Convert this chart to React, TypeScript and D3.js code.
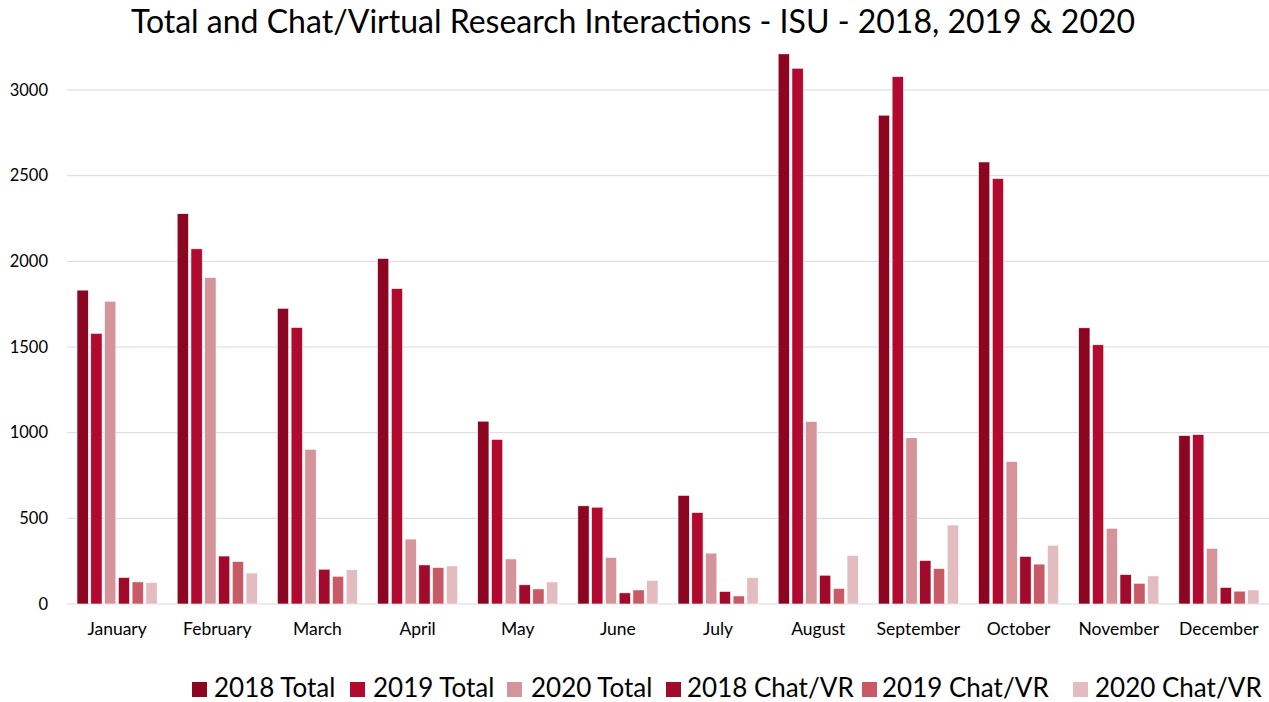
import React from 'react';
import { scaleBand, scaleLinear } from 'd3';

const months = [
  'January', 'February', 'March', 'April', 'May', 'June',
  'July', 'August', 'September', 'October', 'November', 'December',
];
const seriesNames = [
  '2018 Total', '2019 Total', '2020 Total',
  '2018 Chat/VR', '2019 Chat/VR', '2020 Chat/VR',
];
const total2018 = [1832, 2278, 1726, 2017, 1067, 573, 634, 3211, 2853, 2580, 1612, 983];
const total2019 = [1580, 2073, 1614, 1841, 961, 565, 534, 3127, 3078, 2483, 1513, 989];
const total2020 = [1767, 1905, 903, 379, 263, 272, 297, 1065, 970, 832, 442, 325];
const chat2018 = [155, 280, 203, 228, 112, 65, 73, 168, 254, 278, 172, 97];
const chat2019 = [129, 248, 162, 213, 88, 82, 47, 91, 207, 233, 121, 75];
const chat2020 = [125, 181, 200, 222, 129, 138, 155, 284, 461, 343, 164, 82];
const yTicks = [0, 500, 1000, 1500, 2000, 2500, 3000];

const seriesValues = [total2018, total2019, total2020, chat2018, chat2019, chat2020];
const colors = ['#8c0622', '#b20a2f', '#d49499', '#a10a2b', '#c75a64', '#e3bcc0'];

const W = 1269;
const H = 702;
const MARGIN = { TOP: 57, BOTTOM: 98, LEFT: 67, RIGHT: 0 };
const FONT = 'Lato, "Open Sans", sans-serif';

// legend: swatch left edge and text start for each entry
const legendX = [192, 350, 507, 666, 862, 1073];
const legendTextX = [214, 373, 531, 687, 882, 1095];

export default function App(): JSX.Element {
  const x = scaleBand<string>()
    .domain(months)
    .range([MARGIN.LEFT, W - MARGIN.RIGHT]);
  const inner = scaleBand<number>()
    .domain(seriesValues.map((_, i) => i))
    .range([10, x.bandwidth() - 10])
    .paddingInner(0.18);
  const y = scaleLinear()
    .domain([0, 3000])
    .range([H - MARGIN.BOTTOM, 90]);

  return (
    <svg
      width={W}
      height={H}
      style={{ position: 'absolute', left: 0, top: 0, background: '#fff' }}
      fontFamily={FONT}
    >
      <text x={633} y={33} textAnchor="middle" fontSize={32} fill="#000">
        Total and Chat/Virtual Research Interactions - ISU - 2018, 2019 &amp; 2020
      </text>

      {yTicks.map((t) => (
        <g key={t}>
          <line
            x1={MARGIN.LEFT}
            x2={W - MARGIN.RIGHT}
            y1={y(t)}
            y2={y(t)}
            stroke="#d9d9d9"
            strokeWidth={1}
          />
          <text x={48} y={y(t) + 5.5} textAnchor="end" fontSize={16.5} fill="#000">
            {t}
          </text>
        </g>
      ))}

      {months.map((m, mi) => (
        <g key={m} transform={`translate(${x(m)},0)`}>
          {seriesValues.map((vals, si) => (
            <rect
              key={si}
              x={inner(si)}
              y={y(vals[mi])}
              width={inner.bandwidth()}
              height={y(0) - y(vals[mi])}
              fill={colors[si]}
              stroke="#fff"
              strokeWidth={0.6}
            />
          ))}
          <text
            x={x.bandwidth() / 2}
            y={635}
            textAnchor="middle"
            fontSize={17.5}
            fill="#000"
          >
            {m}
          </text>
        </g>
      ))}

      {seriesNames.map((s, i) => (
        <g key={s}>
          <rect x={legendX[i]} y={682} width={15} height={15} fill={colors[i]} />
          <text x={legendTextX[i]} y={697} fontSize={26} fill="#000">
            {s}
          </text>
        </g>
      ))}
    </svg>
  );
}
